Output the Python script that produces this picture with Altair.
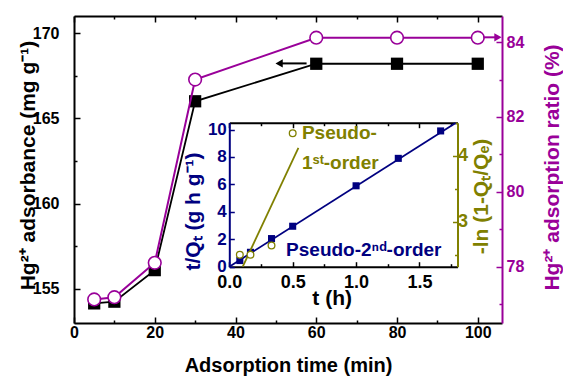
import altair as alt
import pandas as pd

# ---------------- data ----------------
time_min = [5, 10, 20, 30, 60, 80, 100]
adsorbance = [154.15, 154.25, 156.1, 166.0, 168.2, 168.2, 168.2]
ratio = [77.12, 77.18, 78.1, 83.0, 84.12, 84.12, 84.12]

t_h = [0.083, 0.167, 0.333, 0.5, 1.0, 1.333, 1.667]
t_over_q = [0.45, 1.05, 2.05, 2.95, 5.9, 7.9, 9.9]
fit2_t = [0.0, 1.785]
fit2_y = [0.0, 10.48]

t1_h = [0.083, 0.167, 0.333]
ln_term = [2.5, 2.5, 2.64]
fit1_t = [0.106, 0.545]
fit1_y = [2.32, 4.12]

# arrows (data coordinates)
arrow_black_x = [57.6, 51.0]
arrow_black_y = [168.22, 168.22]
arrow_black_head_x = [50.8]
arrow_purple_x = [101.4, 105.0]
arrow_purple_y = [84.13, 84.13]
arrow_purple_head_x = [105.0]

# text annotations
p1_x = [0.50]
p1_y = [4.34]
p1_text_x = [0.573, 0.573]
p1_text_y = [4.35, 3.89]
p1_text = ["Pseudo-", "1ˢᵗ-order"]
p2_text_x = [0.448]
p2_text_y = [1.22]
p2_text = ["Pseudo-2ⁿᵈ-order"]

# ---------------- style ----------------
W, H = 428, 307
FONT = "Liberation Sans"
BLACK = "#000000"
PURPLE = "#990099"
NAVY = "#000080"
OLIVE = "#808000"

x_main = alt.Scale(domain=[0, 106], nice=False, zero=False)
y_left = alt.Scale(domain=[153, 171], nice=False, zero=False)
y_right = alt.Scale(domain=[76.49, 84.7], nice=False, zero=False)
x_in = alt.Scale(domain=[0, 1.8], range=[155.3, 383.5], nice=False, zero=False)
y_in_l = alt.Scale(domain=[0, 10.5], range=[250.7, 106.7], nice=False, zero=False)
y_in_r = alt.Scale(domain=[2.32, 4.5], range=[250.7, 106.7], nice=False, zero=False)


def ax(orient, color, values, major_test, major=6, minor=3, offset=0,
       labels=True, fmt=None, label_size=16, label_padding=10,
       title=None, title_x=None, title_y=None, title_angle=0, title_size=21):
    kw = dict(
        orient=orient, values=values, offset=offset, grid=False,
        domain=True, domainColor=color, domainWidth=2,
        ticks=True, tickColor=color, tickWidth=1.5,
        tickSize={"expr": f"({major_test}) ? {-major} : {-minor}"},
        labels=labels, labelColor=color, labelFont=FONT, labelFontSize=label_size,
        labelFontWeight="bold", labelFlush=False, labelOverlap=False,
        labelPadding=label_padding,
        labelExpr=f"({major_test}) ? datum.label : ''",
    )
    if fmt:
        kw["format"] = fmt
    if title:
        kw.update(title=title, titleColor=color, titleFont=FONT, titleFontSize=title_size,
                  titleFontWeight="bold", titleX=title_x, titleY=title_y,
                  titleAngle=title_angle, titleAlign="center", titleBaseline="middle")
    else:
        kw["title"] = None
    return alt.Axis(**kw)


main_df = pd.DataFrame({"t": time_min, "q": adsorbance, "r": ratio})
in2_df = pd.DataFrame({"t": t_h, "y": t_over_q})
fit2_df = pd.DataFrame({"t": fit2_t, "y": fit2_y})
in1_df = pd.DataFrame({"t": t1_h, "y": ln_term})
fit1_df = pd.DataFrame({"t": fit1_t, "y": fit1_y})

x_main_vals = list(range(0, 101, 10))
bottom_axis = ax("bottom", BLACK, x_main_vals, "datum.value % 20 === 0", label_padding=7,
                 title="Adsorption time (min)", title_x=W / 2, title_y=42, title_size=20)
top_axis = ax("top", BLACK, x_main_vals, "datum.value % 20 === 0", labels=False)
left_axis = ax("left", BLACK, [155, 157.5, 160, 162.5, 165, 167.5, 170], "datum.value % 5 === 0",
               fmt=".0f", label_padding=21,
               title="Hg²⁺ adsorbance\u00a0(mg g⁻¹)", title_x=-46, title_y=149,
               title_angle=270)
right_axis = ax("right", PURPLE, [77, 78, 79, 80, 81, 82, 83, 84], "datum.value % 2 === 0",
                fmt=".0f", label_padding=10,
                title="Hg²⁺ adsorption ratio (%)", title_x=50, title_y=151,
                title_angle=270)

in_x_vals = [0, 0.25, 0.5, 0.75, 1.0, 1.25, 1.5, 1.75]
in_bottom = ax("bottom", BLACK, in_x_vals, "(datum.value * 2) % 1 === 0", major=5, offset=-56.3,
               fmt=".1f", label_size=18, label_padding=12,
               title="t (h)", title_x=257.7, title_y=32)
in_top = ax("top", BLACK, in_x_vals, "(datum.value * 2) % 1 === 0", major=5, offset=-106.7,
            labels=False)
in_left = ax("left", NAVY, [0, 2, 4, 6, 8, 10], "true", major=5, offset=-155.3,
             fmt=".0f", label_size=17, label_padding=8,
             title="t/Qₜ\u00a0(g h g⁻¹)", title_x=-36, title_y=195, title_angle=270, title_size=21)
in_right = ax("right", OLIVE, [2.5, 3, 3.5, 4, 4.5], "datum.value % 1 === 0", major=5, offset=-44.5,
              fmt=".0f", label_size=18, label_padding=5,
              title="-ln\u00a0(1-Qₜ/Qₑ)", title_x=24, title_y=180, title_angle=270, title_size=21)

# ---------------- main layers ----------------
black_line = alt.Chart(main_df).mark_line(color=BLACK, strokeWidth=1.8).encode(
    x=alt.X("t:Q", scale=x_main, axis=bottom_axis),
    y=alt.Y("q:Q", scale=y_left, axis=left_axis))
black_pts = alt.Chart(main_df).mark_point(shape="square", filled=True, size=150, color=BLACK,
                                          opacity=1).encode(
    x=alt.X("t:Q", scale=x_main, axis=top_axis),
    y=alt.Y("q:Q", scale=y_left, axis=None))
purple_line = alt.Chart(main_df).mark_line(color=PURPLE, strokeWidth=2).encode(
    x=alt.X("t:Q", scale=x_main, axis=None),
    y=alt.Y("r:Q", scale=y_right, axis=right_axis))
purple_pts = alt.Chart(main_df).mark_point(shape="circle", filled=True, fill="white",
                                           stroke=PURPLE, strokeWidth=1.6, size=160,
                                           opacity=1).encode(
    x=alt.X("t:Q", scale=x_main, axis=None),
    y=alt.Y("r:Q", scale=y_right, axis=None))

ab_df = pd.DataFrame({"x": arrow_black_x, "y": arrow_black_y})
abh_df = pd.DataFrame({"x": arrow_black_head_x, "y": arrow_black_y[:1]})
ap_df = pd.DataFrame({"x": arrow_purple_x, "y": arrow_purple_y})
aph_df = pd.DataFrame({"x": arrow_purple_head_x, "y": arrow_purple_y[:1]})

arrow_b = alt.Chart(ab_df).mark_line(color=BLACK, strokeWidth=2).encode(
    x=alt.X("x:Q", scale=x_main, axis=None), y=alt.Y("y:Q", scale=y_left, axis=None))
arrow_bh = alt.Chart(abh_df).mark_point(shape="triangle-left", filled=True, size=70,
                                        color=BLACK, opacity=1).encode(
    x=alt.X("x:Q", scale=x_main, axis=None), y=alt.Y("y:Q", scale=y_left, axis=None))
arrow_p = alt.Chart(ap_df).mark_line(color=PURPLE, strokeWidth=2).encode(
    x=alt.X("x:Q", scale=x_main, axis=None), y=alt.Y("y:Q", scale=y_right, axis=None))
arrow_ph = alt.Chart(aph_df).mark_point(shape="triangle-right", filled=True, size=70,
                                        color=PURPLE, opacity=1).encode(
    x=alt.X("x:Q", scale=x_main, axis=None), y=alt.Y("y:Q", scale=y_right, axis=None))

# ---------------- inset layers ----------------
blue_line = alt.Chart(fit2_df).mark_line(color=NAVY, strokeWidth=1.8).encode(
    x=alt.X("t:Q", scale=x_in, axis=in_bottom),
    y=alt.Y("y:Q", scale=y_in_l, axis=in_left))
blue_pts = alt.Chart(in2_df).mark_point(shape="square", filled=True, size=50, color=NAVY,
                                        opacity=1).encode(
    x=alt.X("t:Q", scale=x_in, axis=in_top),
    y=alt.Y("y:Q", scale=y_in_l, axis=None))
olive_line = alt.Chart(fit1_df).mark_line(color=OLIVE, strokeWidth=1.8).encode(
    x=alt.X("t:Q", scale=x_in, axis=None),
    y=alt.Y("y:Q", scale=y_in_r, axis=in_right))
olive_pts = alt.Chart(in1_df).mark_point(shape="circle", filled=True, fill="white", stroke=OLIVE,
                                         strokeWidth=1.3, size=45, opacity=1).encode(
    x=alt.X("t:Q", scale=x_in, axis=None),
    y=alt.Y("y:Q", scale=y_in_r, axis=None))
legend_pt = alt.Chart(pd.DataFrame({"t": p1_x, "y": p1_y})).mark_point(
    shape="circle", filled=True, fill="white", stroke=OLIVE, strokeWidth=1.3, size=45,
    opacity=1).encode(
    x=alt.X("t:Q", scale=x_in, axis=None),
    y=alt.Y("y:Q", scale=y_in_r, axis=None))
p1_txt = alt.Chart(pd.DataFrame({"t": p1_text_x, "y": p1_text_y, "s": p1_text})).mark_text(
    align="left", baseline="middle", font=FONT, fontSize=19, fontWeight="bold",
    color=OLIVE).encode(
    x=alt.X("t:Q", scale=x_in, axis=None),
    y=alt.Y("y:Q", scale=y_in_r, axis=None), text="s:N")
p2_txt = alt.Chart(pd.DataFrame({"t": p2_text_x, "y": p2_text_y, "s": p2_text})).mark_text(
    align="left", baseline="middle", font=FONT, fontSize=19, fontWeight="bold",
    color=NAVY).encode(
    x=alt.X("t:Q", scale=x_in, axis=None),
    y=alt.Y("y:Q", scale=y_in_l, axis=None), text="s:N")

chart = alt.layer(
    black_line, black_pts, purple_line, purple_pts,
    arrow_b, arrow_bh, arrow_p, arrow_ph,
    blue_line, blue_pts, olive_line, olive_pts, legend_pt, p1_txt, p2_txt,
).resolve_scale(x="independent", y="independent").properties(
    width=W, height=H,
    autosize=alt.AutoSizeParams(type="none"),
    padding={"left": 74, "top": 16, "right": 61, "bottom": 53},
    background="white",
).configure_view(stroke=None)

chart.save("out.html", embed_options={"renderer": "svg", "actions": False})
